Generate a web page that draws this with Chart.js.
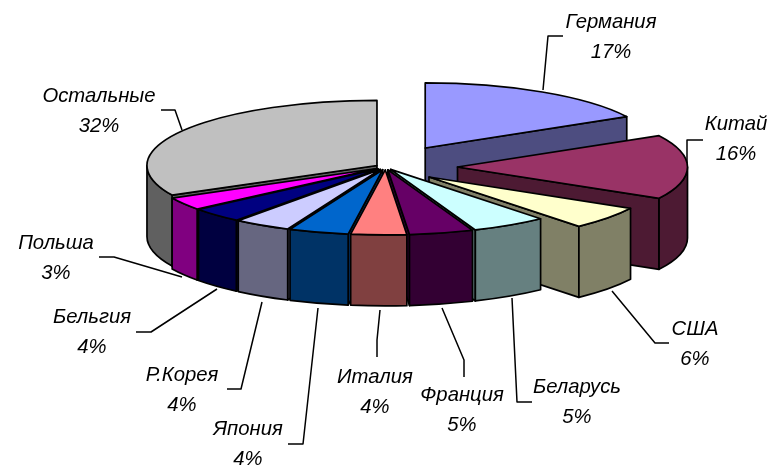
<!DOCTYPE html>
<html>
<head>
<meta charset="utf-8">
<style>html,body{margin:0;padding:0;background:#fff}canvas{display:block}</style>
<script src="https://cdn.jsdelivr.net/npm/chart.js@4/dist/chart.umd.min.js"></script>
</head>
<body>
<div style="width:771px;height:465px"><canvas id="c" width="771" height="465"></canvas></div>
<script>
const categories = ['Германия','Китай','США','Беларусь','Франция','Италия','Япония','Р.Корея','Бельгия','Польша','Остальные'];
const shares = [17.0,16.0,5.7,5.3,4.5,3.9,4.2,4.0,3.7,3.2,32.5];
const percentLabels = ['17%','16%','6%','5%','5%','4%','4%','4%','4%','3%','32%'];
const sliceColors = ['#9999FF','#993366','#FFFFCC','#CCFFFF','#660066','#FF8080','#0066CC','#CCCCFF','#000080','#FF00FF','#C0C0C0'];
const explode = [78,72,56,10,10,10,10,10,10,10,10];

// annotation layout: label centre and leader polyline, separate from the data
const labelCentres = [[611,22],[736,124],[695,329],[577,387],[462,395],[375,377],[248,429],[182,375],[92,317],[56,243],[99,96]];
const leaders = [
  [[563,36],[548,36],[543,90]],
  [[703,140],[687,140],[687,163]],
  [[612,291],[655,343],[669,343]],
  [[512,298],[517,402],[532,402]],
  [[442,308],[464,360],[464,377]],
  [[380,310],[377,340],[377,357]],
  [[318,308],[303,444],[288,444]],
  [[262,302],[241,389],[227,389]],
  [[217,289],[151,332],[136,332]],
  [[182,277],[114,257],[99,257]],
  [[182,130],[175,110],[161,110]]
];
const TILT = 0.283, DEPTH = 71, LINE_GAP = 30;
const FONT = 'italic 20.3px "Liberation Sans", Arial, sans-serif';

function darken(hex){
  const n = parseInt(hex.slice(1),16);
  const h = v => Math.round(v/2).toString(16).padStart(2,'0');
  return '#'+h(n>>16&255)+h(n>>8&255)+h(n&255);
}

const pie3d = {
  id:'pie3d',
  beforeDatasetsDraw(chart){
    const ctx = chart.ctx, arcs = chart.getDatasetMeta(0).data;
    const items = arcs.map((a,i)=>{
      const mid = (a.startAngle+a.endAngle)/2, off = explode[i];
      return {i, a0:a.startAngle, a1:a.endAngle, mid, r:a.outerRadius,
        cx:a.x+Math.cos(mid)*off, cy:a.y+Math.sin(mid)*off*TILT};
    }).sort((p,q)=>Math.sin(p.mid)-Math.sin(q.mid));
    const ry = t => t*TILT;
    const stroke = ()=>{ctx.lineWidth=1.7;ctx.lineJoin='round';ctx.strokeStyle='#000';ctx.fill();ctx.stroke();};
    const ell = (s,cx,cy,r,a,b,dy,ccw)=>ctx.ellipse(cx,cy+dy,r,ry(r),0,a,b,!!ccw);
    const pt = (s,a)=>[s.cx+Math.cos(a)*s.r, s.cy+Math.sin(a)*ry(s.r)];
    const radial = (s,a)=>{
      const p = pt(s,a);
      ctx.beginPath();
      ctx.moveTo(s.cx,s.cy);ctx.lineTo(p[0],p[1]);ctx.lineTo(p[0],p[1]+DEPTH);ctx.lineTo(s.cx,s.cy+DEPTH);ctx.closePath();
      stroke();
    };
    items.forEach(s=>{
      const col = sliceColors[s.i], dark = darken(col);
      ctx.fillStyle = dark;
      if(-Math.cos(s.a0)>0) radial(s,s.a0);
      if(Math.cos(s.a1)>0) radial(s,s.a1);
      // visible outer wall: portion of the rim in the front half (0..PI in canvas angles)
      [[0,Math.PI],[2*Math.PI,3*Math.PI]].forEach(([lo,hi])=>{
        const a=Math.max(s.a0,lo), b=Math.min(s.a1,hi);
        if(b>a){
          ctx.beginPath();
          ell(s,s.cx,s.cy,s.r,a,b,0);
          ell(s,s.cx,s.cy,s.r,b,a,DEPTH,true);
          ctx.closePath();
          stroke();
        }
      });
      ctx.fillStyle = col;
      ctx.beginPath();
      ctx.moveTo(s.cx,s.cy);
      ell(s,s.cx,s.cy,s.r,s.a0,s.a1,0);
      ctx.closePath();
      stroke();
    });
    return false;
  },
  afterDraw(chart){
    const ctx = chart.ctx;
    ctx.save();
    ctx.strokeStyle='#000';ctx.lineWidth=1.5;
    leaders.forEach(l=>{
      ctx.beginPath();
      l.forEach((p,k)=>k?ctx.lineTo(p[0],p[1]):ctx.moveTo(p[0],p[1]));
      ctx.stroke();
    });
    ctx.fillStyle='#000';ctx.font=FONT;ctx.textAlign='center';ctx.textBaseline='middle';
    categories.forEach((c,i)=>{
      const [x,y]=labelCentres[i];
      ctx.fillText(c,x,y);
      ctx.fillText(percentLabels[i],x,y+LINE_GAP);
    });
    ctx.restore();
  }
};

new Chart(document.getElementById('c'),{
  type:'pie',
  data:{labels:categories,datasets:[{data:shares,backgroundColor:sliceColors,borderWidth:0,radius:230}]},
  options:{
    responsive:false,animation:false,
    layout:{padding:{bottom:131}},
    plugins:{legend:{display:false},tooltip:{enabled:false}}
  },
  plugins:[pie3d]
});
</script>
</body>
</html>
